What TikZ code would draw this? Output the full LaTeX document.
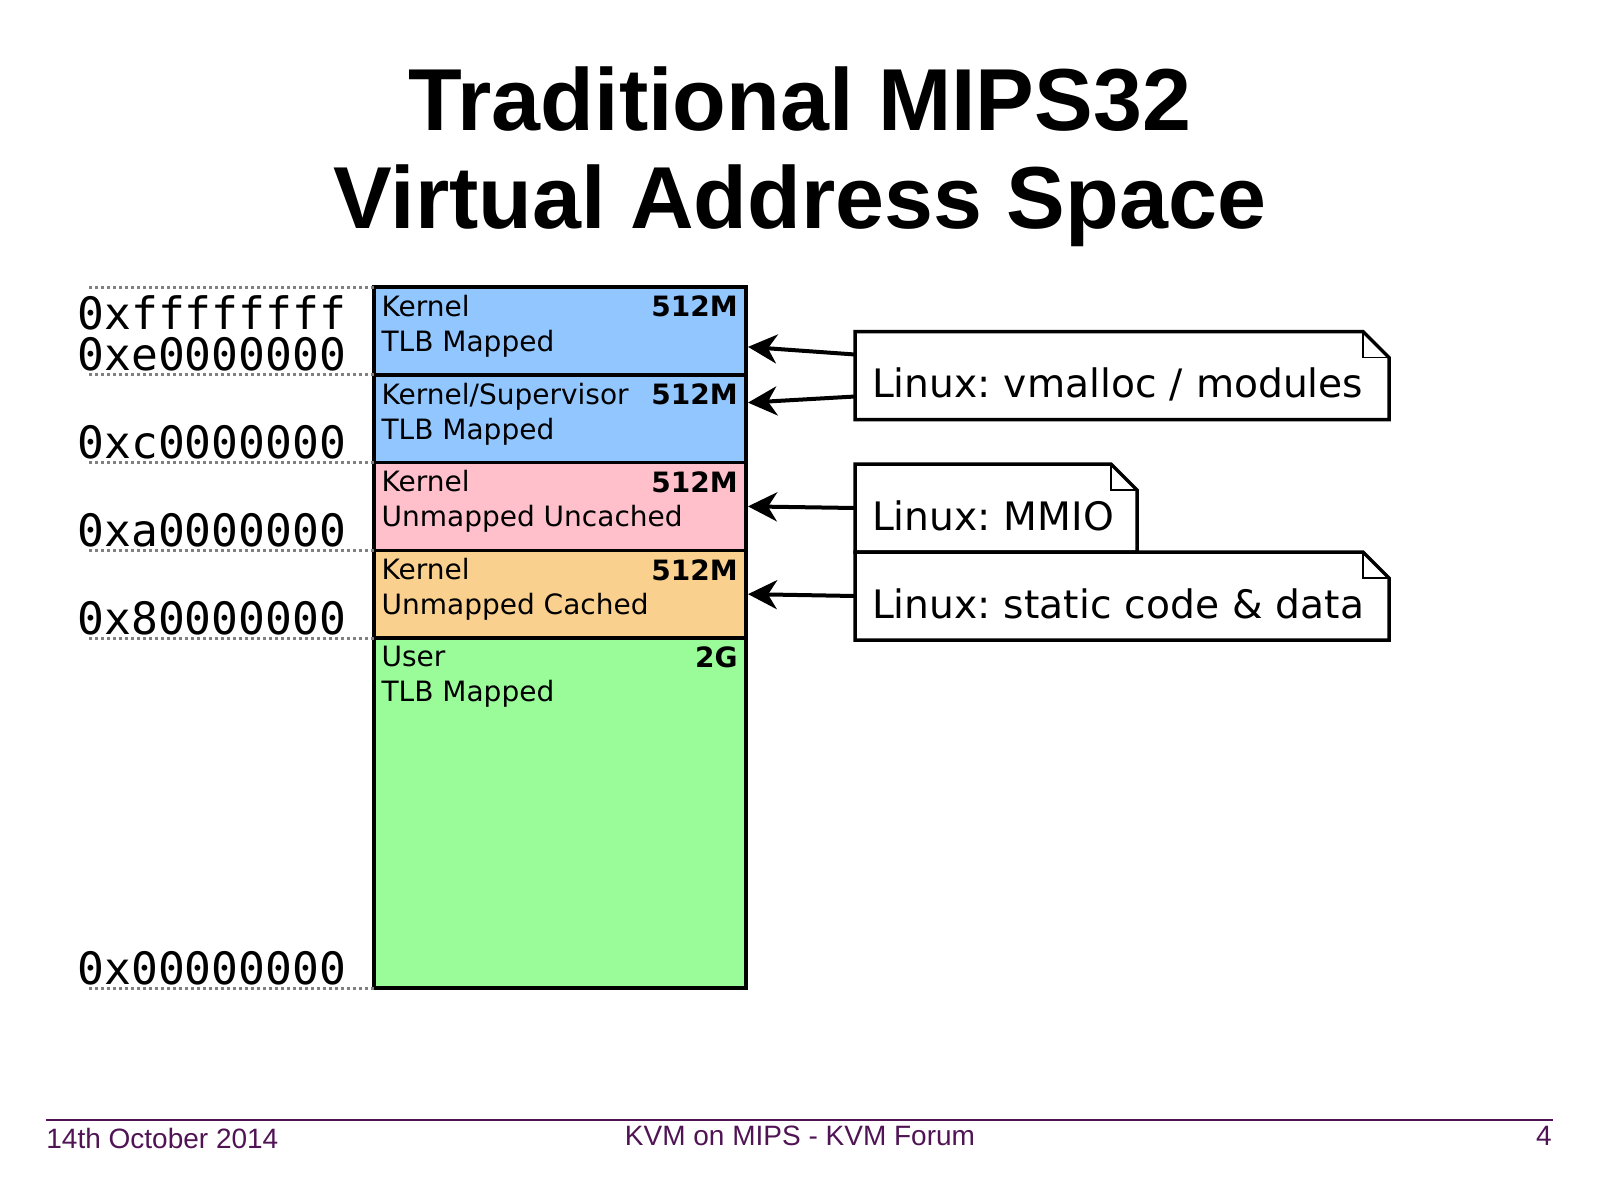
\documentclass[tikz,border=0pt]{standalone}
\usepackage{fontspec}
\setmainfont{DejaVu Sans}
\setmonofont{DejaVu Sans Mono}
\newfontfamily\slidefont{Liberation Sans}
\usepackage{tikz}
\usetikzlibrary{positioning}
\usetikzlibrary{arrows.meta}

\definecolor{kblue}{RGB}{146,198,255}
\definecolor{kpink}{RGB}{255,192,203}
\definecolor{korange}{RGB}{250,208,143}
\definecolor{ugreen}{RGB}{153,252,153}
\definecolor{footpurple}{RGB}{80,20,85}

\begin{document}
\begin{tikzpicture} [
    x=0.5pt, y=-0.5pt,
    title/.style = {anchor=north, align=center, inner sep=0pt, font=\slidefont\bfseries\fontsize{44}{49}\selectfont},
    region/.style = {draw, line width=1.75pt, minimum width=186pt, minimum height=43.875pt, inner sep=0pt, outer sep=0pt},
    rtext/.style = {anchor=north west, align=left, inner xsep=3.6pt, inner ysep=3.9pt, font=\fontsize{14}{17.5}\selectfont},
    rsize/.style = {anchor=north east, inner xsep=4pt, inner ysep=4.3pt, font=\fontsize{14}{17.5}\selectfont\bfseries},
    addr/.style = {anchor=base east, inner sep=0pt, font=\ttfamily\fontsize{22.3}{26}\selectfont},
    guide/.style = {gray, line width=1.5pt, dash pattern=on 1.6pt off 1.4pt},
    note/.style = {anchor=north west, minimum height=44pt, inner xsep=8.5pt, inner ysep=0pt, outer sep=0pt, text height=22pt, text depth=0pt, align=left, font=\fontsize{19.6}{24}\selectfont\frenchspacing},
    notebox/.style = {line width=1.75pt, line join=miter},
    fold/.style = {line width=0.75pt},
    ptr/.style = {-{Stealth[length=14.5pt, width=14.5pt, inset=4.5pt]}, line width=2pt},
    foot/.style = {footpurple, inner sep=0pt, font=\slidefont\fontsize{14}{16}\selectfont}
]
    \useasboundingbox (0,0) rectangle (1599,1199);

    \node[title] (title) at (800,66) {Traditional MIPS32\\Virtual Address Space};

    \node[region, fill=kblue, anchor=north west] (kseg3) at (374,287) {};
    \node[region, fill=kblue, below=0pt of kseg3] (ksseg) {};
    \node[region, fill=kpink, below=0pt of ksseg] (kseg1) {};
    \node[region, fill=korange, below=0pt of kseg1] (kseg0) {};
    \node[region, fill=ugreen, below=0pt of kseg0, minimum height=175pt] (useg) {};

    \node[rtext] (kseg3-t) at (kseg3.north west) {Kernel\\TLB Mapped};
    \node[rtext] (ksseg-t) at (ksseg.north west) {Kernel/Supervisor\\TLB Mapped};
    \node[rtext] (kseg1-t) at (kseg1.north west) {Kernel\\Unmapped Uncached};
    \node[rtext] (kseg0-t) at (kseg0.north west) {Kernel\\Unmapped Cached};
    \node[rtext] (useg-t) at (useg.north west) {User\\TLB Mapped};

    \node[rsize] (kseg3-s) at (kseg3.north east) {512M};
    \node[rsize] (ksseg-s) at (ksseg.north east) {512M};
    \node[rsize] (kseg1-s) at (kseg1.north east) {512M};
    \node[rsize] (kseg0-s) at (kseg0.north east) {512M};
    \node[rsize] (useg-s) at (useg.north east) {2G};

    \coordinate (gl) at (89,0);
    \draw[guide] (kseg3.north west) -- (kseg3.north west -| gl);
    \draw[guide] (kseg3.south west) -- (kseg3.south west -| gl);
    \draw[guide] (ksseg.south west) -- (ksseg.south west -| gl);
    \draw[guide] (kseg1.south west) -- (kseg1.south west -| gl);
    \draw[guide] (kseg0.south west) -- (kseg0.south west -| gl);
    \draw[guide] (useg.south west) -- (useg.south west -| gl);

    \node[addr] (a-ff) at ([xshift=-13.8pt, yshift=-21pt]kseg3.north west) {0xffffffff};
    \node[addr] (a-e0) at ([xshift=-13.8pt, yshift=2pt]kseg3.south west) {0xe0000000};
    \node[addr] (a-c0) at ([xshift=-13.8pt, yshift=2pt]ksseg.south west) {0xc0000000};
    \node[addr] (a-a0) at ([xshift=-13.8pt, yshift=2pt]kseg1.south west) {0xa0000000};
    \node[addr] (a-80) at ([xshift=-13.8pt, yshift=2pt]kseg0.south west) {0x80000000};
    \node[addr] (a-00) at ([xshift=-13.8pt, yshift=2pt]useg.south west) {0x00000000};

    \node[note, text width=250pt] (vmalloc) at (855,331.5) {Linux: vmalloc / modules};
    \node[note, text width=124pt] (mmio) at (855,464) {Linux: MMIO};
    \node[note, text width=250pt] (static) at (mmio.south west) {Linux: static code \& data};

    \draw[notebox] (vmalloc.north west) -- ([xshift=-13pt]vmalloc.north east) -- ([yshift=-13pt]vmalloc.north east) -- (vmalloc.south east) -- (vmalloc.south west) -- cycle;
    \draw[fold] ([xshift=-13pt]vmalloc.north east) |- ([yshift=-13pt]vmalloc.north east);
    \draw[notebox] (mmio.north west) -- ([xshift=-13pt]mmio.north east) -- ([yshift=-13pt]mmio.north east) -- (mmio.south east) -- (mmio.south west) -- cycle;
    \draw[fold] ([xshift=-13pt]mmio.north east) |- ([yshift=-13pt]mmio.north east);
    \draw[notebox] (static.north west) -- ([xshift=-13pt]static.north east) -- ([yshift=-13pt]static.north east) -- (static.south east) -- (static.south west) -- cycle;
    \draw[fold] ([xshift=-13pt]static.north east) |- ([yshift=-13pt]static.north east);

    \draw[ptr] ([yshift=10.5pt]vmalloc.west) -- ([xshift=1pt, yshift=-8pt]kseg3.east);
    \draw[ptr] ([yshift=-10.5pt]vmalloc.west) -- ([xshift=1pt, yshift=8pt]ksseg.east);
    \draw[ptr] (mmio.west) -- ([xshift=1pt]kseg1.east);
    \draw[ptr] (static.west) -- ([xshift=1pt]kseg0.east);

    \draw[footpurple, line width=1pt] (46,1120) -- (1553,1120);
    \node[foot, anchor=base west] (date) at (46,1148) {14th October 2014};
    \node[foot, anchor=base] (event) at (800,1145) {KVM on MIPS - KVM Forum};
    \node[foot, anchor=base east] (page) at (1552,1145) {4};
\end{tikzpicture}
\end{document}
